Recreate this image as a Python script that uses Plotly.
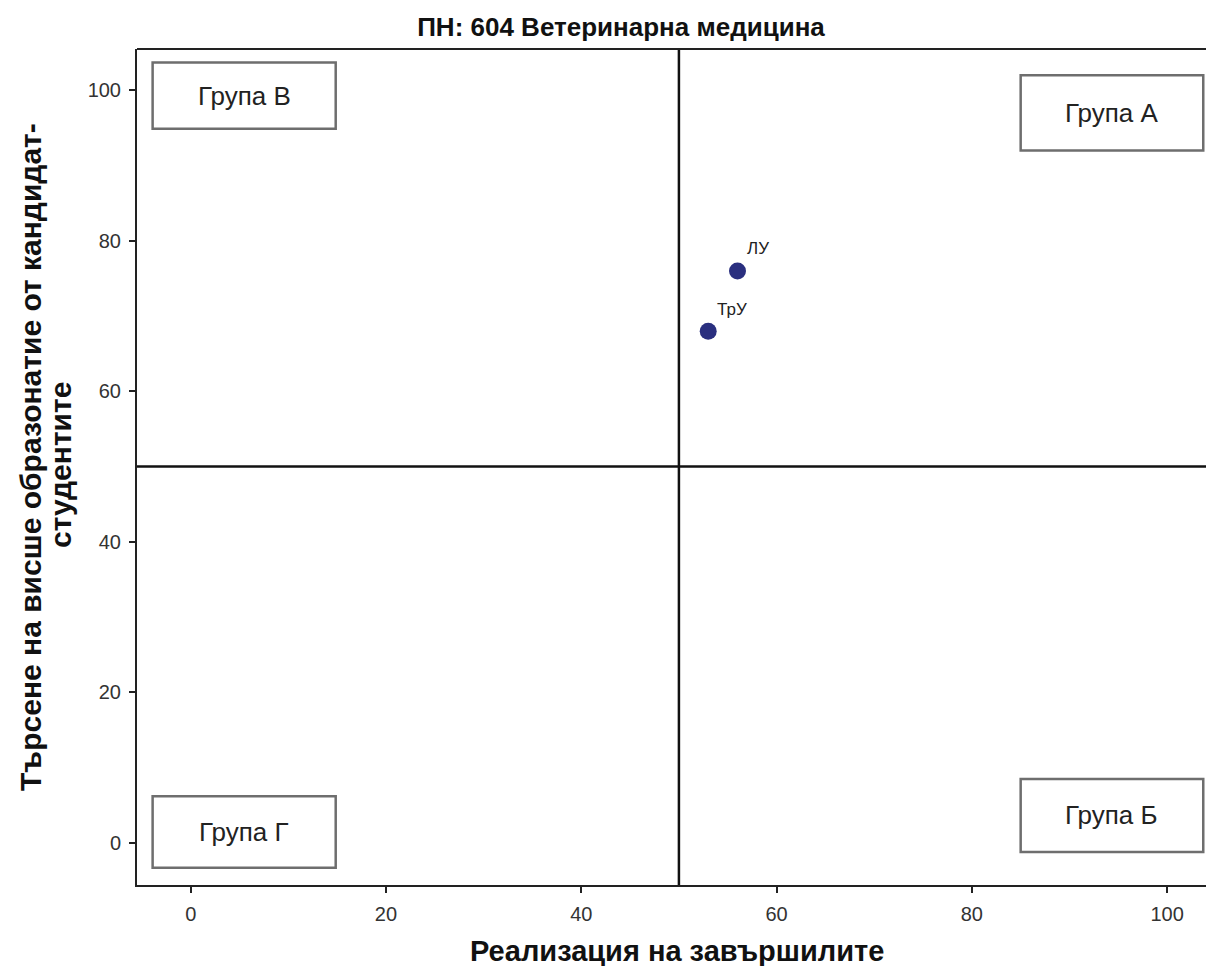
import plotly.graph_objects as go

# Data
universities = ["ЛУ", "ТрУ"]
realization = [56.0, 53.0]
demand = [76.0, 68.0]

group_labels = ["Група В", "Група А", "Група Б", "Група Г"]
x_ticks = [0, 20, 40, 60, 80, 100]
y_ticks = [0, 20, 40, 60, 80, 100]
threshold_x = 50
threshold_y = 50

title_text = "ПН: 604 Ветеринарна медицина"
x_title = "Реализация на завършилите"
y_title_lines = ["Търсене на висше образонатие от кандидат-", "студентите"]

# Page body has an 8px margin, so the figure is sized to fit the window.
W, H = 1206, 958
L, R, T, B = 129, 0, 41, 81
PW, PH = W - L - R, H - T - B


def px(fx):
    return (fx - L) / PW


def py(fy):
    return (H - B - fy) / PH


fig = go.Figure()

fig.add_trace(go.Scatter(
    x=realization, y=demand, mode="markers",
    marker=dict(size=17, color="#2A2F7F", line=dict(width=0)),
    hoverinfo="skip", showlegend=False,
))

# point labels
for name, xv, yv in zip(universities, realization, demand):
    fig.add_annotation(x=xv, y=yv, text=name, showarrow=False,
                       xanchor="left", yanchor="middle", xshift=7, yshift=22,
                       font=dict(family="Liberation Sans, Arial", size=17, color="#222222"))

# quadrant lines
fig.add_shape(type="line", x0=threshold_x, x1=threshold_x, y0=0, y1=1,
              xref="x", yref="paper", line=dict(color="#111111", width=2.5))
fig.add_shape(type="line", x0=0, x1=1, y0=threshold_y, y1=threshold_y,
              xref="paper", yref="y", line=dict(color="#111111", width=2.5))

# group boxes (x0, x1, y0, y1 in data units)
boxes = [
    (-3.9, 14.85, 94.9, 103.7),
    (85.0, 103.7, 92.0, 102.0),
    (85.0, 103.7, -1.2, 8.5),
    (-3.9, 14.85, -3.3, 6.2),
]
for label, (bx0, bx1, by0, by1) in zip(group_labels, boxes):
    fig.add_shape(type="rect", x0=bx0, x1=bx1, y0=by0, y1=by1,
                  xref="x", yref="y", line=dict(color="#6e6e6e", width=2.5),
                  fillcolor="white", layer="above")
    fig.add_annotation(x=(bx0 + bx1) / 2, y=(by0 + by1) / 2, text=label,
                       showarrow=False, xanchor="center", yanchor="middle",
                       font=dict(family="Liberation Sans, Arial", size=26, color="#222222"))

# axis titles
fig.add_annotation(x=px(669), y=py(943), xref="paper", yref="paper",
                   text="<b>" + x_title + "</b>", showarrow=False,
                   xanchor="center", yanchor="middle",
                   font=dict(family="Liberation Sans, Arial", size=29, color="#111111"))
fig.add_annotation(x=px(22), y=py(449), xref="paper", yref="paper",
                   text="<b>" + y_title_lines[0] + "</b>", showarrow=False, textangle=-90,
                   xanchor="center", yanchor="middle",
                   font=dict(family="Liberation Sans, Arial", size=30, color="#111111"))
fig.add_annotation(x=px(52), y=py(457), xref="paper", yref="paper",
                   text="<b>" + y_title_lines[1] + "</b>", showarrow=False, textangle=-90,
                   xanchor="center", yanchor="middle",
                   font=dict(family="Liberation Sans, Arial", size=30, color="#111111"))

fig.update_layout(
    width=W, height=H,
    margin=dict(l=L, r=R, t=T, b=B),
    plot_bgcolor="white", paper_bgcolor="white",
    title=dict(text="<b>" + title_text + "</b>", x=613 / W, xanchor="center",
               y=1 - 19 / H, yanchor="middle",
               font=dict(family="Liberation Sans Narrow, Arial Narrow, Liberation Sans", size=26, color="#111111")),
    xaxis=dict(range=[-5.5, 104.8], tickvals=x_ticks, ticks="outside", ticklen=6,
               tickwidth=2, tickcolor="#222222", showgrid=False, zeroline=False,
               showline=True, linecolor="#222222", linewidth=2, ticklabelstandoff=4,
               tickfont=dict(family="Liberation Sans, Arial", size=20, color="#333333")),
    yaxis=dict(range=[-5.6, 105.5], tickvals=y_ticks, ticks="outside", ticklen=6,
               tickwidth=2, tickcolor="#222222", showgrid=False, zeroline=False,
               showline=True, linecolor="#222222", linewidth=2, ticklabelstandoff=4,
               tickfont=dict(family="Liberation Sans, Arial", size=20, color="#333333")),
)
# top border
fig.add_shape(type="line", x0=0, x1=1, y0=1, y1=1, xref="paper", yref="paper",
              line=dict(color="#222222", width=2))

fig.write_html("out.html")
